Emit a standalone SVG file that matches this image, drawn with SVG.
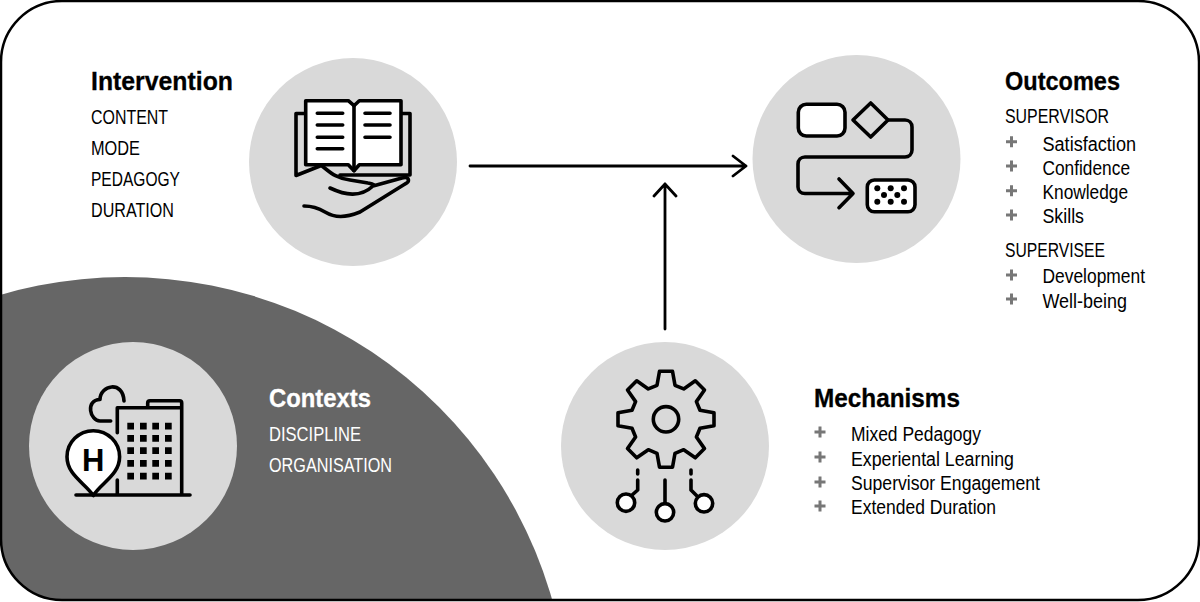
<svg xmlns="http://www.w3.org/2000/svg" width="1200" height="602" viewBox="0 0 1200 602">
<style>
text{font-family:"Liberation Sans",Arial,sans-serif;fill:#000}
.h{font-size:26px;font-weight:700;stroke:#000;stroke-width:.3}
.c{font-size:20px}
.i{font-size:19.5px}
.o{fill:#fff;stroke:#fff}
.disc{fill:#d9d9d9}
.ln{fill:none;stroke:#000;stroke-width:3.600;stroke-linecap:round;stroke-linejoin:round}
.wf{fill:#fff;stroke:#000;stroke-width:3.600;stroke-linejoin:round;stroke-linecap:round}
.conn{fill:none;stroke:#000;stroke-width:2.800;stroke-linecap:round;stroke-linejoin:round}
.plus{fill:none;stroke:#777;stroke-width:3}
</style>
<defs>
<clipPath id="frameClip"><rect x="1" y="1" width="1198" height="599" rx="61" ry="61"/></clipPath>
<path id="p" class="plus" d="M-5.500 0H5.500M0-5.500V5.500"/>
</defs>
<rect width="1200" height="602" fill="#fff"/>
<g id="background">
<circle cx="125" cy="721" r="444" fill="#666" clip-path="url(#frameClip)"/>
<rect x="1" y="1" width="1198" height="599" rx="61" ry="61" fill="none" stroke="#000" stroke-width="2.500"/>
</g>
<g id="connectors">
<path class="conn" d="M470 166H746M733 156L746 166L733 176"/>
<path class="conn" d="M665 329V184M654 196L665 184L676 196"/>
</g>
<g id="intervention">
<circle class="disc" cx="353" cy="162" r="104"/>
<path class="ln" d="M305 113.500H296V175.500L320 166M401 113.500H410V175H340"/>
<path class="wf" d="M305.700 100.700H348.300L354 105.700L359.300 100.700H401V164.700H359.300L354 170.700L348.300 164.700H305.700Z"/>
<path class="ln" d="M354 105.700V170.700M317.300 113.300H342.700M317.300 125H342.700M317.300 137.300H342.700M317.300 148.700H342.700M365 113.300H390M365 125H390M365 137.300H390"/>
<path class="ln" d="M322 166C330 172 335 178 350 180L368 183C375 184 375 186 373 186C360 198 345 195 330 188M373 186L402 178C410 176 410 182 405 184L360 212C345 218 335 218 325 212C315 206 305 206 304 206"/>
<text class="h" x="91" y="90" textLength="142" lengthAdjust="spacingAndGlyphs">Intervention</text>
<text class="c" x="91" y="123.500" textLength="77" lengthAdjust="spacingAndGlyphs">CONTENT</text>
<text class="c" x="91" y="155" textLength="49" lengthAdjust="spacingAndGlyphs">MODE</text>
<text class="c" x="91" y="185.500" textLength="89" lengthAdjust="spacingAndGlyphs">PEDAGOGY</text>
<text class="c" x="91" y="217" textLength="83" lengthAdjust="spacingAndGlyphs">DURATION</text>
</g>
<g id="outcomes">
<circle class="disc" cx="856.500" cy="159" r="104"/>
<rect class="wf" x="798.300" y="104.300" width="46.700" height="31.700" rx="8"/>
<path class="ln" d="M853 120L870.700 103L888 120L870.700 137Z"/>
<path class="ln" d="M888 120H905C909 120 912 123 912 127V150C912 154 909 157 905 157H805C801 157 798 160 798 164V187C798 191 801 193.500 805 193.500H853M839 179L853 193.500L839 207.700"/>
<rect class="wf" x="867.300" y="180" width="47.700" height="31.700" rx="7"/>
<g fill="#000"><circle cx="877.300" cy="188.300" r="3"/><circle cx="890.700" cy="188.300" r="3"/><circle cx="904" cy="188.300" r="3"/><circle cx="884" cy="195" r="3"/><circle cx="897.300" cy="195" r="3"/><circle cx="877.300" cy="201.700" r="3"/><circle cx="890.700" cy="201.700" r="3"/><circle cx="904" cy="201.700" r="3"/></g>
<text class="h" x="1005" y="90" textLength="115" lengthAdjust="spacingAndGlyphs">Outcomes</text>
<text class="c" x="1005" y="123" textLength="104" lengthAdjust="spacingAndGlyphs">SUPERVISOR</text>
<use href="#p" x="1011.500" y="141.700"/><use href="#p" x="1011.500" y="166"/><use href="#p" x="1011.500" y="190.700"/><use href="#p" x="1011.500" y="215"/>
<text class="i" x="1042.500" y="150.500" textLength="93.500" lengthAdjust="spacingAndGlyphs">Satisfaction</text>
<text class="i" x="1042.500" y="175" textLength="87.500" lengthAdjust="spacingAndGlyphs">Confidence</text>
<text class="i" x="1042.500" y="199" textLength="85.500" lengthAdjust="spacingAndGlyphs">Knowledge</text>
<text class="i" x="1042.500" y="223" textLength="41.500" lengthAdjust="spacingAndGlyphs">Skills</text>
<text class="c" x="1005" y="257" textLength="100" lengthAdjust="spacingAndGlyphs">SUPERVISEE</text>
<use href="#p" x="1011.500" y="275"/><use href="#p" x="1011.500" y="299"/>
<text class="i" x="1042.500" y="283" textLength="102.500" lengthAdjust="spacingAndGlyphs">Development</text>
<text class="i" x="1042.500" y="308" textLength="84.500" lengthAdjust="spacingAndGlyphs">Well-being</text>
</g>
<g id="contexts">
<circle class="disc" cx="133" cy="446" r="104"/>
<path class="ln" d="M76 495H190M117.300 495V480M117.300 432.700V407.700H181.700V495M147.700 407.700V403C147.700 401.500 148.700 400.700 150 400.700H179.500C181 400.700 181.700 401.500 181.700 403V407.700"/>
<g fill="#000"><path d="M127.300 422.700h6.700v6.700h-6.700zM140 422.700h6.700v6.700h-6.700zM152.300 422.700h6.700v6.700h-6.700zM165 422.700h6.700v6.700h-6.700zM127.300 435h6.700v6.700h-6.700zM140 435h6.700v6.700h-6.700zM152.300 435h6.700v6.700h-6.700zM165 435h6.700v6.700h-6.700zM127.300 447.300h6.700v6.700h-6.700zM140 447.300h6.700v6.700h-6.700zM152.300 447.300h6.700v6.700h-6.700zM165 447.300h6.700v6.700h-6.700zM127.300 460h6.700v6.700h-6.700zM140 460h6.700v6.700h-6.700zM152.300 460h6.700v6.700h-6.700zM165 460h6.700v6.700h-6.700zM127.300 472.700h6.700v6.700h-6.700zM140 472.700h6.700v6.700h-6.700zM152.300 472.700h6.700v6.700h-6.700zM165 472.700h6.700v6.700h-6.700z"/></g>
<path class="ln" d="M110.700 421H100C90 421 85 400 100 399.500C100 385 123 380 124 401"/>
<path class="wf" d="M93.300 495.500C85 483 67 475 67 456.700A26.300 26 0 0 1 119.600 456.700C119.600 475 101 483 93.300 495.500Z"/>
<text x="93.300" y="471" font-size="31" font-weight="700" text-anchor="middle">H</text>
<text class="h o" x="269" y="407" textLength="102" lengthAdjust="spacingAndGlyphs">Contexts</text>
<text class="c" x="269" y="441" textLength="92" lengthAdjust="spacingAndGlyphs" style="fill:#fff">DISCIPLINE</text>
<text class="c" x="269" y="472" textLength="123" lengthAdjust="spacingAndGlyphs" style="fill:#fff">ORGANISATION</text>
</g>
<g id="mechanisms">
<circle class="disc" cx="665" cy="446" r="104"/>
<g transform="translate(666 419.300)">
<path class="ln" d="M-9-34L-6.500-48H6.500L9-34L17.700-30.400L29.300-38.500L38.500-29.300L30.400-17.700L34-9L48-6.500V6.500L34 9L30.400 17.700L38.500 29.300L29.300 38.500L17.700 30.400L9 34L6.500 48H-6.500L-9 34L-17.700 30.400L-29.300 38.500L-38.500 29.300L-30.400 17.700L-34 9L-48 6.500V-6.500L-34-9L-30.400-17.700L-38.500-29.300L-29.300-38.500L-17.700-30.400Z"/>
<circle class="ln" r="12.700"/>
</g>
<path class="ln" d="M665 480V503M637.700 470V474M637.700 480V490L631 496M691 470V474M691 480V490L697 496"/>
<circle class="wf" cx="665" cy="512.300" r="8.700"/><circle class="wf" cx="626" cy="502.700" r="8.700"/><circle class="wf" cx="704" cy="503.300" r="8.700"/>
<text class="h" x="814" y="407" textLength="146" lengthAdjust="spacingAndGlyphs">Mechanisms</text>
<use href="#p" x="820" y="432"/><use href="#p" x="820" y="457"/><use href="#p" x="820" y="482"/><use href="#p" x="820" y="506"/>
<text class="i" x="851" y="441" textLength="130" lengthAdjust="spacingAndGlyphs">Mixed Pedagogy</text>
<text class="i" x="851" y="466" textLength="163" lengthAdjust="spacingAndGlyphs">Experiental Learning</text>
<text class="i" x="851" y="490" textLength="189" lengthAdjust="spacingAndGlyphs">Supervisor Engagement</text>
<text class="i" x="851" y="514" textLength="145" lengthAdjust="spacingAndGlyphs">Extended Duration</text>
</g>
</svg>
